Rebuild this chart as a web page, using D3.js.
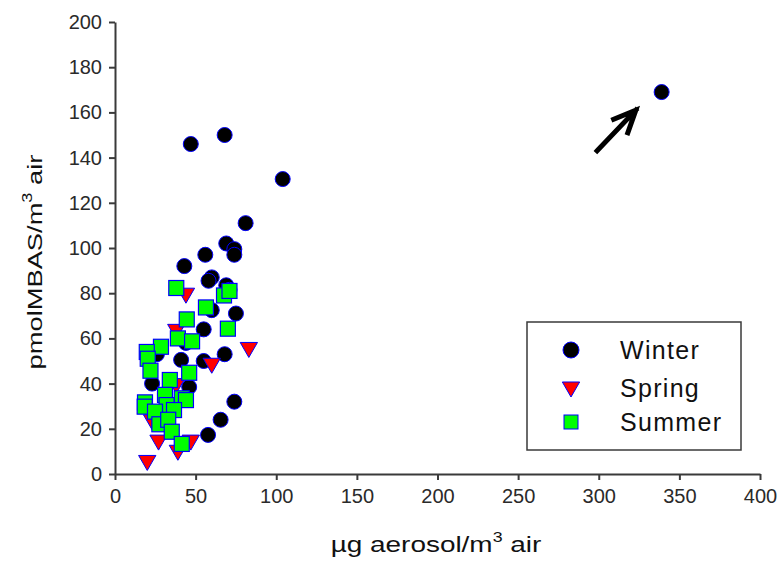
<!DOCTYPE html>
<html lang="en">
<head>
    <meta charset="UTF-8">
    <title>MBAS vs aerosol</title>
    <script src="https://d3js.org/d3.v7.min.js"></script>
    <style>
        body { margin: 0; background: #fff; }
        svg { display: block; font-family: 'Liberation Sans', Arial, sans-serif; }
        .axis path, .axis line { stroke: #3a3a3a; stroke-width: 2px; }
        .axis text { fill: #2a2a2a; font-size: 20px; }
    </style>
</head>
<body>
    <svg id="chart" width="778" height="565"></svg>
    <script>
        // values: [aerosol µg/m3, pmol MBAS/m3]
        const winter = [
            [339, 169], [47, 146], [68, 150], [104, 130.5], [81, 111], [69, 102],
            [74, 99.5], [74, 97], [56, 97], [43, 92], [60, 87], [58, 85.5],
            [69, 83.5], [71, 81.5], [60, 72.5], [75, 71], [55, 64], [44, 58],
            [26, 53], [41, 50.5], [55, 50], [68, 53], [23, 40], [46, 38.5],
            [74, 32], [65.5, 24], [57.7, 17.3]
        ];
        const spring = [
            [44, 80], [38, 64], [83, 56], [60, 49], [38, 40], [23, 24],
            [27, 15], [47, 15], [39, 10.5], [20, 6]
        ];
        const summer = [
            [38, 82.3], [67.6, 79], [71, 81], [56.4, 73.7], [44.5, 68.4], [70, 64.3],
            [39, 60], [47.8, 58.7], [28.5, 56.3], [19.7, 54], [20.3, 51], [22, 45.7],
            [46, 44.8], [34, 41.6], [31, 35], [41.4, 33.5], [44, 32.7], [32, 30.5],
            [18.6, 31.7], [18.4, 29.8], [24.8, 27.6], [36.6, 28.3], [27.5, 22],
            [33, 24], [35.2, 18.7], [41.4, 13.3]
        ];
        const seasons = ["Winter", "Spring", "Summer"];
        const xTicks = [0, 50, 100, 150, 200, 250, 300, 350, 400];
        const yTicks = [0, 20, 40, 60, 80, 100, 120, 140, 160, 180, 200];
        // arrow pointing at the outlier: tail, head
        const arrowPts = [[299, 143], [323, 161]];

        const svg = d3.select("#chart");
        const x = d3.scaleLinear().domain([0, 400]).range([115, 760]);
        const y = d3.scaleLinear().domain([0, 200]).range([474, 22]);

        const xAxis = svg.append("g").attr("class", "axis")
            .attr("transform", "translate(0,474)")
            .call(d3.axisBottom(x).tickValues(xTicks).tickSize(6).tickPadding(9).tickSizeOuter(0));
        const yAxis = svg.append("g").attr("class", "axis")
            .attr("transform", "translate(115,0)")
            .call(d3.axisLeft(y).tickValues(yTicks).tickSize(6).tickPadding(7).tickSizeOuter(0));
        xAxis.selectAll("text").attr("font-family", null).attr("font-size", null);
        yAxis.selectAll("text").attr("font-family", null).attr("font-size", null);

        // axis titles
        const xt = svg.append("text")
            .attr("transform", "translate(436,552) scale(1.27,1)")
            .attr("text-anchor", "middle")
            .attr("font-size", 22).attr("fill", "#111");
        xt.append("tspan").text("\u00b5g aerosol/m");
        xt.append("tspan").attr("font-size", 14).attr("dy", -10).text("3");
        xt.append("tspan").attr("dy", 10).text(" air");

        const yt = svg.append("text")
            .attr("transform", "translate(42,262) rotate(-90) scale(1.3,1)")
            .attr("text-anchor", "middle")
            .attr("font-size", 21).attr("fill", "#111");
        yt.append("tspan").text("pmolMBAS/m");
        yt.append("tspan").attr("font-size", 14).attr("dy", -10).text("3");
        yt.append("tspan").attr("dy", 10).text(" air");

        const tri = d3.symbol().type(d3.symbolTriangle).size(130);

        // winter
        svg.append("g").selectAll("circle").data(winter).join("circle")
            .attr("cx", d => x(d[0])).attr("cy", d => y(d[1])).attr("r", 7.5)
            .attr("fill", "#000").attr("stroke", "#0000ff").attr("stroke-width", 1);
        // spring
        svg.append("g").selectAll("path").data(spring).join("path")
            .attr("d", tri)
            .attr("transform", d => `translate(${x(d[0])},${y(d[1])}) rotate(180)`)
            .attr("fill", "#ff0000").attr("stroke", "#0000ff").attr("stroke-width", 1);
        // summer
        svg.append("g").selectAll("rect").data(summer).join("rect")
            .attr("x", d => x(d[0]) - 7.5).attr("y", d => y(d[1]) - 7.5)
            .attr("width", 15).attr("height", 15)
            .attr("fill", "#00ff00").attr("stroke", "#0000ff").attr("stroke-width", 1.2);

        // arrow
        const ax0 = x(arrowPts[0][0]), ay0 = y(arrowPts[0][1]);
        const ax1 = x(arrowPts[1][0]), ay1 = y(arrowPts[1][1]);
        const ang = Math.atan2(ay1 - ay0, ax1 - ax0);
        const hl = 24, spread = 0.42;
        const barb = s => [ax1 - hl * Math.cos(ang + s), ay1 - hl * Math.sin(ang + s)];
        const b1 = barb(spread), b2 = barb(-spread);
        svg.append("path")
            .attr("d", `M${ax0},${ay0}L${ax1},${ay1}M${b1[0]},${b1[1]}L${ax1},${ay1}L${b2[0]},${b2[1]}`)
            .attr("fill", "none").attr("stroke", "#000").attr("stroke-width", 5)
            .attr("stroke-linecap", "square").attr("stroke-linejoin", "miter");

        // legend
        const lg = svg.append("g");
        lg.append("rect").attr("x", 527).attr("y", 322).attr("width", 214).attr("height", 128)
            .attr("fill", "#fff").attr("stroke", "#3a3a3a").attr("stroke-width", 1.5);
        const rowsY = [350, 388, 422];
        seasons.forEach((s, i) => {
            const cy = rowsY[i];
            if (i === 0) {
                lg.append("circle").attr("cx", 571).attr("cy", cy).attr("r", 8)
                    .attr("fill", "#000").attr("stroke", "#0000ff");
            } else if (i === 1) {
                lg.append("path").attr("d", tri)
                    .attr("transform", `translate(571,${cy - 1}) rotate(180)`)
                    .attr("fill", "#ff0000").attr("stroke", "#0000ff");
            } else {
                lg.append("rect").attr("x", 564).attr("y", cy - 7).attr("width", 14).attr("height", 14)
                    .attr("fill", "#00ff00").attr("stroke", "#0000ff");
            }
            lg.append("text").attr("x", 620).attr("y", cy + 9)
                .attr("font-size", 25).attr("letter-spacing", 1.3).attr("fill", "#111").text(s);
        });
    </script>
</body>
</html>
